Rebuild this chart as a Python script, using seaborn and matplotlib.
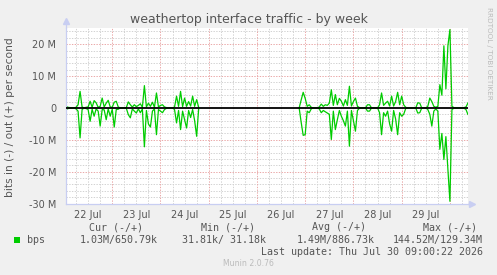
import numpy as np
import pandas as pd
import matplotlib
matplotlib.use("Agg")
import matplotlib.pyplot as plt
import matplotlib.dates as mdates
import matplotlib.ticker as mticker
from matplotlib.patches import Rectangle
import seaborn as sns

# ---------------- data (values in Mbit/s) ----------------
title = "weathertop interface traffic - by week"
ylabel = "bits in (-) / out (+) per second"
period_start = "2026-07-22 01:00"
period_end = "2026-07-30 09:00"

seg1_start = "2026-07-22 01:00"
seg1_out = [0.5, 0.2, 0.1, 0.0, 0.0, 0.2, 1.0, 5.2, 0.3, 0.0,
            0.2, 0.3, 2.1, 0.2, 2.3, 1.6, 0.2, 0.5, 3.1, 0.3,
            1.5, 2.4, 0.3, 0.2, 1.8, 2.1, 0.3, 0.0, 0.0, 0.0,
            0.1, 1.9, 1.0, 0.3, 1.0, 0.4, 0.8, 1.3, 0.2, 7.0,
            0.3, 1.5, 0.5, 1.8, 0.2, 4.7, 0.3, 0.8, 1.0, 0.3,
            0.1, 0.0, 0.0, 0.0, 0.3, 3.7, 0.5, 5.2, 0.4, 3.1,
            0.5, 2.0, 0.6, 3.7, 0.5, 2.6, 0.2]
seg1_in = [-0.5, -0.2, -0.1, 0.0, 0.0, -0.3, -1.0, -9.4, -0.5, 0.0,
           -0.2, -0.5, -4.2, -0.4, -2.6, -0.3, -1.0, -5.7, -0.5, -0.6,
           -3.7, -0.3, -2.6, -0.4, -6.0, -0.5, -0.4, 0.0, 0.0, 0.0,
           -0.1, -2.1, -3.1, -0.3, -1.0, -1.6, -0.3, -1.5, -0.3, -12.2,
           -0.8, -5.0, -6.0, -1.0, -0.3, -8.4, -0.5, -1.0, -1.5, -0.5,
           -0.1, 0.0, 0.0, 0.0, -0.5, -4.7, -0.8, -6.8, -1.0, -3.7,
           -6.3, -0.8, -3.0, -0.5, -4.0, -8.9, -0.3]

seg2_start = "2026-07-26 21:00"
seg2_out = [0.0, 2.5, 4.9, 3.0, 0.5, 1.0, 0.2, 0.0, 0.0, 0.0,
            0.3, 1.2, 0.5, 1.0, 0.8, 1.5, 5.7, 0.8, 4.2, 1.0,
            3.0, 2.1, 0.6, 2.6, 0.8, 6.8, 0.6, 2.0, 3.1, 0.5,
            0.1, 0.0, 0.0, 0.0, 1.0, 1.0, 0.0, 0.0, 0.0, 0.0,
            1.0, 4.7, 0.8, 1.5, 2.1, 0.6, 3.7, 0.6, 2.0, 4.9,
            1.0, 3.7, 1.0, 0.2, 0.0, 0.0, 0.0, 0.0, 0.0, 1.6,
            1.5, 0.0, 0.0, 0.0, 0.5, 3.1, 2.0, 0.5, 0.2, 0.5,
            7.3, 4.0, 19.5, 6.0, 19.5, 24.6, 0.5, 0.1, 0.1, 0.1,
            0.1, 0.1, 0.1, 0.3, 1.6]
seg2_in = [0.0, -4.5, -8.6, -8.4, -1.0, -1.5, -0.3, 0.0, 0.0, 0.0,
           -0.3, -1.5, -0.8, -1.2, -1.6, -2.0, -9.9, -1.0, -6.8, -3.7,
           -0.8, -2.6, -4.0, -5.7, -1.0, -12.0, -0.8, -4.0, -7.3, -0.8,
           -0.1, 0.0, 0.0, 0.0, -1.0, -1.0, 0.0, 0.0, 0.0, 0.0,
           -1.5, -8.4, -1.5, -2.6, -1.0, -5.0, -7.3, -0.8, -3.5, -8.4,
           -1.5, -2.6, -2.0, -0.2, 0.0, 0.0, 0.0, 0.0, 0.0, -1.6,
           -1.5, 0.0, 0.0, 0.0, -0.5, -2.0, -5.7, -1.0, -0.3, -1.0,
           -13.0, -8.0, -16.2, -9.0, -19.3, -29.3, -0.5, -0.1, -0.1, -0.1,
           -0.1, -0.1, -0.1, -0.5, -2.1]

ytick_vals = [-30, -20, -10, 0, 10, 20]
ytick_labels = ["-30 M", "-20 M", "-10 M", "0", "10 M", "20 M"]
y_limits = (-30, 25)

series_name = "bps"
legend_headers = ["Cur (-/+)", "Min (-/+)", "Avg (-/+)", "Max (-/+)"]
legend_values = ["1.03M/650.79k", "31.81k/ 31.18k", "1.49M/886.73k", "144.52M/129.34M"]
last_update = "Last update: Thu Jul 30 09:00:22 2026"
footer = "Munin 2.0.76"
side_text = "RRDTOOL / TOBI OETIKER"

# ---------------- build frame ----------------
frames = []
for i, (start, outv, inv) in enumerate([(seg1_start, seg1_out, seg1_in),
                                        (seg2_start, seg2_out, seg2_in)]):
    t = pd.date_range(start, periods=len(outv), freq="h")
    frames.append(pd.DataFrame({"time": t, "value": outv, "trace": f"out{i}"}))
    frames.append(pd.DataFrame({"time": t, "value": inv, "trace": f"in{i}"}))
df = pd.concat(frames, ignore_index=True)

# ---------------- styling ----------------
sns.set_theme(style="white")
plt.rcParams["font.family"] = ["DejaVu Sans"]

W, H = 497, 275
BG = "#F0F0F0"
FONT = "#555555"
AXIS = "#C8CEF2"
GRID = "#D2D2D2"
MGRID = "#EAA8A8"
GREEN = "#00CC00"

def fx(x):
    return x / W

def fy(y):
    return 1 - y / H

fig = plt.figure(figsize=(W / 100, H / 100), dpi=100, facecolor=BG)
L, R, T, B = 66, 468, 28.3, 203.5
ax = fig.add_axes([L / W, 1 - B / H, (R - L) / W, (B - T) / H])
ax.set_facecolor("white")

t0 = pd.Timestamp(period_start)
t1 = pd.Timestamp(period_end)
ax.set_xlim(t0, t1)
ax.set_ylim(*y_limits)

# grid
for v in np.arange(y_limits[0] + 2, y_limits[1] + 0.1, 2):
    if v == 0:
        continue
    col = MGRID if v % 10 == 0 else GRID
    ax.axhline(v, color=col, lw=0.7, ls=(0, (1.4, 1.4)), zorder=0.5)
for tt in pd.date_range("2026-07-22 06:00", t1, freq="6h"):
    col = MGRID if tt.hour == 0 else GRID
    ax.axvline(tt, color=col, lw=0.7, ls=(0, (1.4, 1.4)), zorder=0.5)

sns.lineplot(data=df, x="time", y="value", units="trace", estimator=None,
             color=GREEN, lw=0.9, ax=ax, legend=False, zorder=2)
ax.axhline(0, color="black", lw=1.3, zorder=3)

# axes
for s in ["top", "right"]:
    ax.spines[s].set_visible(False)
for s in ["left", "bottom"]:
    ax.spines[s].set_color(AXIS)
    ax.spines[s].set_linewidth(0.9)
ax.plot([0, 0], [1, 1.03], transform=ax.transAxes, color=AXIS, lw=0.9, clip_on=False)
ax.plot([0], [1.04], marker="^", ms=4.5, color=AXIS, transform=ax.transAxes, clip_on=False)
ax.plot([1, 1.005], [0, 0], transform=ax.transAxes, color=AXIS, lw=0.9, clip_on=False)
ax.plot([1.01], [0], marker=">", ms=4.5, color=AXIS, transform=ax.transAxes, clip_on=False)

ax.set_yticks(ytick_vals)
ax.set_yticklabels(ytick_labels)
ax.yaxis.set_minor_locator(mticker.MultipleLocator(2))
ax.xaxis.set_major_locator(mdates.HourLocator(byhour=[12]))
ax.xaxis.set_major_formatter(mdates.DateFormatter("%d %b"))
ax.xaxis.set_minor_locator(mdates.HourLocator(byhour=[0, 6, 18]))
ax.tick_params(axis="both", which="major", labelsize=7, labelcolor=FONT, colors=GRID, length=2, width=0.6, pad=3)
ax.tick_params(axis="x", which="major", length=0, pad=5)
ax.tick_params(axis="both", which="minor", length=2, width=0.6, colors=GRID)
ax.tick_params(axis="y", which="major", pad=5)
ax.set_xlabel("")
ax.set_ylabel("")

# texts
fig.text(fx(248.5), fy(19), title, ha="center", va="center", fontsize=9, color=FONT)
fig.text(fx(10), fy(117), ylabel, ha="center", va="center", rotation=90, fontsize=7.7, color=FONT)
fig.text(fx(489), fy(53), side_text, ha="center", va="center", rotation=270, fontsize=5.2, color="#BBBBBB")

mono = dict(family="DejaVu Sans Mono", fontsize=7.2, color=FONT)
header_left = [89.3, 200.7, 311.7, 422.7]
for xh, txt in zip(header_left, legend_headers):
    fig.text(fx(xh), fy(227.5), txt, ha="left", va="center", **mono)
fig.add_artist(Rectangle((fx(14), fy(243.3)), 6 / W, 6 / H, transform=fig.transFigure,
                         color=GREEN, lw=0))
fig.text(fx(26.7), fy(240), series_name, ha="left", va="center", **mono)
value_right = [158, 266, 374.3, 483]
for xr, txt in zip(value_right, legend_values):
    fig.text(fx(xr), fy(240), txt, ha="right", va="center", **mono)
fig.text(fx(483), fy(252), last_update, ha="right", va="center", **mono)
fig.text(fx(248.3), fy(264), footer, ha="center", va="center", fontsize=5.6, color="#BBBBBB")

fig.savefig("out.png", dpi=100, facecolor=BG)
